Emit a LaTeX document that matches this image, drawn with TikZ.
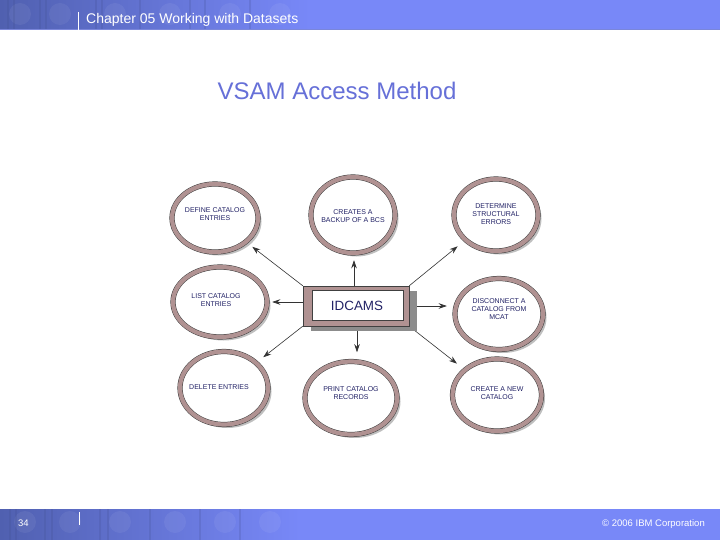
\documentclass[tikz,border=0pt]{standalone}
\usepackage{fontspec}
\setmainfont{Liberation Sans}
\usetikzlibrary{shapes.geometric,shadows,arrows.meta}
\definecolor{hdr}{RGB}{120,136,248}
\definecolor{hdrdark}{RGB}{80,96,176}
\definecolor{titlec}{RGB}{102,112,216}
\definecolor{ringc}{RGB}{176,146,146}
\definecolor{navy}{RGB}{34,34,102}
\begin{document}
\begin{tikzpicture}[x=1pt,y=-1pt,
  bubble/.style={ellipse, draw=black!75, line width=0.5pt, double=ringc, double distance=4.2pt,
    fill=white, inner sep=0pt,
    drop shadow={shadow xshift=3.5pt, shadow yshift=-3.5pt, fill=black!45, opacity=0.55}},
  btxt/.style={font=\fontsize{7}{8}\selectfont, text=navy, align=center, inner sep=0pt},
  arr/.style={draw=black!80, line width=0.6pt, -{Stealth[length=8pt,width=5.5pt]}},
  band/.style={fill=hdr},
  bandtxt/.style={text=white, inner sep=0pt}]
\useasboundingbox (0,0) rectangle (720,540);
\fill[white] (0,0) rectangle (720,540);
% header
\fill[band] (0,0) rectangle (720,30);
\shade[left color=hdrdark, right color=hdr] (0,0) rectangle (310,30);
\foreach \cx in {20,60,115,170,230,280}{\fill[white,opacity=0.06] (\cx,14) circle (11);}
\foreach \lx in {8,14,40,46,96,102,140,190,205,250}{\draw[hdrdark!80!black,opacity=0.2,line width=1.5pt] (\lx,0) -- (\lx,30);}
\draw[hdr!75!gray, line width=1pt] (0,30) -- (720,30);
\draw[white, line width=0.8pt] (78,12) -- (78,30);
\node[bandtxt, anchor=base west, font=\fontsize{14}{16}\selectfont] (hdrt) at (86,23.5) {Chapter 05 Working with Datasets};
% footer
\fill[band] (0,509) rectangle (720,540);
\shade[left color=hdrdark, right color=hdr] (0,509) rectangle (300,540);
\foreach \cx in {25,70,120,175,225,270}{\fill[white,opacity=0.06] (\cx,522) circle (11);}
\foreach \lx in {10,16,45,52,100,108,150,200,240}{\draw[hdrdark!80!black,opacity=0.2,line width=1.5pt] (\lx,509) -- (\lx,540);}
\draw[white, line width=0.8pt] (79,512) -- (79,525);
\node[bandtxt, anchor=base west, font=\fontsize{9.5}{11}\selectfont] (pg) at (18,526) {34};
\node[bandtxt, anchor=base east, font=\fontsize{9.5}{11}\selectfont] (copy) at (705,526) {© 2006 IBM Corporation};
% title
\node[text=titlec, font=\fontsize{24}{28}\selectfont, inner sep=0pt] (title) at (337,91) {VSAM Access Method};
% ellipses
\node[bubble, minimum width=86pt, minimum height=68pt] (e1) at (215,218) {};
\node[bubble, minimum width=84pt, minimum height=76pt] (e2) at (353,215) {};
\node[bubble, minimum width=84pt, minimum height=72pt] (e3) at (496,215) {};
\node[bubble, minimum width=94pt, minimum height=70pt] (e4) at (220,302) {};
\node[bubble, minimum width=88pt, minimum height=71pt] (e5) at (499,314) {};
\node[bubble, minimum width=88pt, minimum height=73pt] (e6) at (224,388) {};
\node[bubble, minimum width=92pt, minimum height=73pt] (e7) at (351,398) {};
\node[bubble, minimum width=89pt, minimum height=72pt] (e8) at (497,395) {};
\node[btxt] (t1) at (215,214) {DEFINE CATALOG\\ENTRIES};
\node[btxt] (t2) at (353,216) {CREATES A\\BACKUP OF A BCS};
\node[btxt] (t3) at (496,214) {DETERMINE\\STRUCTURAL\\ERRORS};
\node[btxt] (t4) at (216,300) {LIST CATALOG\\ENTRIES};
\node[btxt] (t5) at (499,309) {DISCONNECT A\\CATALOG FROM\\MCAT};
\node[btxt] (t6) at (219,387) {DELETE ENTRIES};
\node[btxt] (t7) at (351,393) {PRINT CATALOG\\RECORDS};
\node[btxt] (t8) at (497,393) {CREATE A NEW\\CATALOG};
% central box
\node[minimum width=106pt, minimum height=40pt, inner sep=0pt] (idc) at (356,306) {};
\coordinate (cup) at (354,306);
\coordinate (cdn) at (357,306);
\draw[arr, shorten >=7pt] (cup) -- (cup |- e2.south);
\draw[arr, shorten >=9pt] (cdn) -- (cdn |- e7.north);
\draw[arr, shorten >=5pt] (idc.center |- e4.east) -- (e4.east);
\draw[arr, shorten >=8pt] (idc.center) -- (e5.west |- idc.center);
\draw[arr, shorten >=8pt] (idc.north west) -- (e1);
\draw[arr, shorten >=10pt] (idc.north east) -- (e3);
\draw[arr, shorten >=9pt] (idc.south west) -- (e6);
\draw[arr, shorten >=10pt] (idc.south east) -- (e8);
\fill[black!45] ([xshift=8pt,yshift=-5pt]idc.north west) rectangle ([xshift=8pt,yshift=-5pt]idc.south east);
\draw[black!75, fill=ringc, line width=0.5pt] (idc.north west) rectangle (idc.south east);
\draw[black!75, fill=white, line width=0.5pt] (312,290) rectangle (403,320);
\node[text=navy, font=\fontsize{13.4}{15}\selectfont, inner sep=0pt] (idct) at (357,306) {IDCAMS};
\end{tikzpicture}
\end{document}
